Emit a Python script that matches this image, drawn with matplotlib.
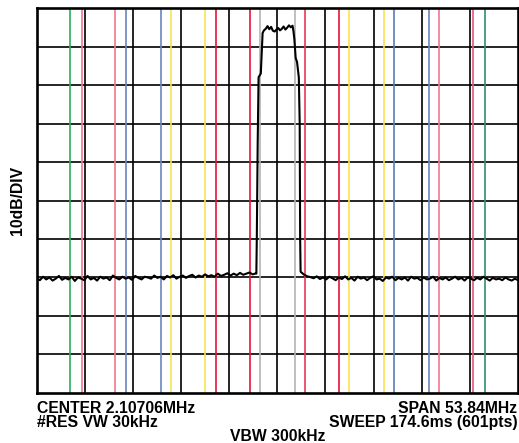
import numpy as np
import matplotlib
matplotlib.use('Agg')
import matplotlib.pyplot as plt

plt.rcParams['font.family'] = ['Liberation Sans', 'DejaVu Sans']

# sweep settings (offset from centre, MHz)
span = 53.84
ref_level = 0
db_per_div = 10

# marker lines: offset from centre in MHz, mirrored on both sides
marker_offsets = [1.95, 3.1, 6.85, 8.07, 11.93, 13.05, 16.93, 18.13, 21.9, 23.2]
marker_colors_left = ['#b4b4b4', '#e8143c', '#e8143c', '#f8e450', '#f8e450',
                      '#6a86bc', '#6a86bc', '#ee7890', '#ee7890', '#30aa5c']
marker_colors_right = ['#b4b4b4', '#e6385a', '#e8143c', '#f8e450', '#f8e450',
                       '#5a7cb8', '#6a86bc', '#ee7890', '#e4587a', '#2e9070']

# noise floor left of the carrier (dBm)
left_db = [-70.2, -70.7, -69.8, -70.5, -70.0, -70.8, -70.3, -69.6, -70.6, -70.1,
           -70.5, -69.8, -70.9, -70.0, -70.3, -70.7, -69.6, -70.5, -70.1, -70.8,
           -69.8, -70.3, -70.0, -70.7, -69.5, -70.1, -70.5, -69.8, -70.3, -70.0,
           -70.6, -69.6, -70.1, -70.5, -69.8, -70.0, -70.3, -69.5, -70.1, -69.8,
           -70.5, -69.6, -70.0, -69.4, -70.3, -69.8, -69.5, -70.1, -69.6, -69.3,
           -70.0, -69.5, -69.8, -69.2, -69.7, -69.4, -69.8, -69.0, -69.6, -69.3,
           -68.9, -69.5, -69.0, -69.4, -68.8, -69.3, -69.0, -68.7, -69.2, -68.9]

# carrier itself (offset MHz, dB)
sig_freq = [-2.35, -2.3, -2.2, -2.1, -1.85, -1.75, -1.65,
            -1.5, -1.3, -1.1, -0.9, -0.7, -0.5, -0.3, -0.1, 0.1, 0.3,
            0.5, 0.7, 0.9, 1.1, 1.3, 1.5, 1.7,
            1.8, 1.9, 2.05, 2.2, 2.4, 2.5, 2.55, 2.6]
sig_db = [-69.0, -60.0, -35.0, -18.0, -17.0, -12.0, -6.5,
          -5.8, -5.4, -4.7, -5.5, -4.9, -5.9, -6.1, -5.6, -5.2, -5.8,
          -5.4, -4.8, -5.6, -5.1, -4.5, -5.0, -4.6,
          -6.0, -8.0, -13.0, -14.0, -18.0, -30.0, -60.0, -68.5]

# noise floor right of the carrier
right_db = [-68.6, -69.3, -69.7, -69.9, -70.2, -69.7, -70.4, -70.0, -70.5, -69.8,
            -70.2, -70.7, -70.0, -70.4, -69.7, -70.5, -70.1, -70.8, -69.8, -70.3,
            -70.0, -70.7, -70.1, -69.7, -70.5, -70.3, -70.9, -70.0, -70.3, -69.8,
            -70.7, -70.1, -70.5, -70.0, -70.8, -69.8, -70.3, -70.1, -70.7, -70.0,
            -70.5, -70.3, -69.8, -70.8, -70.1, -70.5, -70.0, -70.7, -70.3, -69.8,
            -70.5, -70.1, -70.8, -70.0, -70.3, -70.7, -70.1, -70.5, -69.8, -70.3,
            -70.8, -70.1, -70.5, -70.3, -70.7, -70.0, -70.5, -70.8, -70.3, -70.7]

half = span / 2
left_freq = np.linspace(-half, -2.4, len(left_db))
right_freq = np.linspace(2.65, half, len(right_db))
freq = np.concatenate([left_freq, sig_freq, right_freq])
level = np.concatenate([left_db, sig_db, right_db])

fig = plt.figure(figsize=(5.19, 4.43), dpi=100)
ax = fig.add_axes([0.0707, 0.1129, 0.9274, 0.869])

ax.set_xlim(-half, half)
ax.set_ylim(ref_level - 10 * db_per_div, ref_level)

for k in range(1, 10):
    ax.axvline(-half + k * span / 10, color='black', lw=1.2, zorder=1)
    ax.axhline(ref_level - k * db_per_div, color='black', lw=1.2, zorder=1)

for off, cl, cr in zip(marker_offsets, marker_colors_left, marker_colors_right):
    ax.axvline(-off, color=cl, lw=1.2, zorder=2)
    ax.axvline(off, color=cr, lw=1.2, zorder=2)

ax.plot(freq, level, color='black', lw=1.5, zorder=3)

ax.set_xticks([])
ax.set_yticks([])
for s in ax.spines.values():
    s.set_linewidth(1.9)
    s.set_zorder(4)

fs = 11.3
fig.text(0.034, 0.547, '10dB/DIV', rotation=90, ha='center', va='center',
         fontsize=fs, fontweight='bold')
fig.text(0.071, 0.079, 'CENTER 2.10706MHz', ha='left', va='center',
         fontsize=fs, fontweight='bold')
fig.text(0.071, 0.046, '#RES VW 30kHz', ha='left', va='center',
         fontsize=fs, fontweight='bold')
fig.text(0.535, 0.015, 'VBW 300kHz', ha='center', va='center',
         fontsize=fs, fontweight='bold')
fig.text(0.997, 0.079, 'SPAN 53.84MHz', ha='right', va='center',
         fontsize=fs, fontweight='bold')
fig.text(0.997, 0.046, 'SWEEP 174.6ms (601pts)', ha='right', va='center',
         fontsize=fs, fontweight='bold')

fig.savefig('out.png', dpi=100)
